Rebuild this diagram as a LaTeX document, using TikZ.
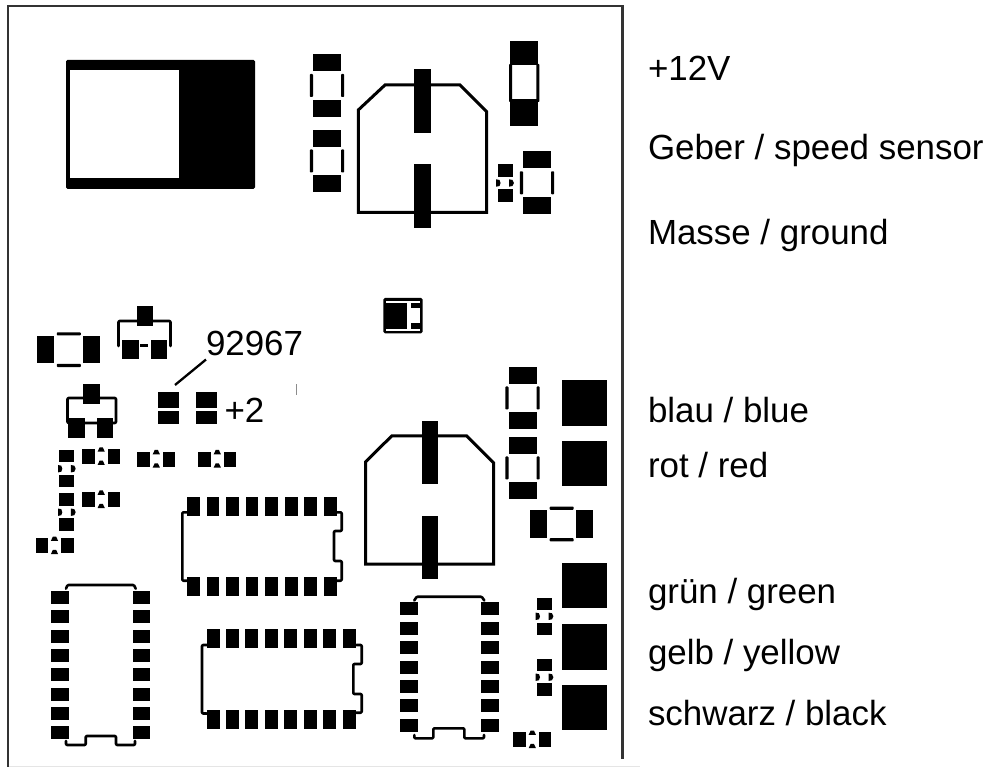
\documentclass[tikz,border=0pt]{standalone}
\usepackage{fontspec}
\setmainfont{Liberation Sans}

\begin{document}
\begin{tikzpicture}
      [x=1pt,y=-1pt,
       every node/.style={inner sep=0pt,outer sep=0pt,anchor=base west,font=\fontsize{34.9}{40}\selectfont},
       pad/.style={fill=black},
       silk/.style={draw=black,line width=2.6pt,line join=round,line cap=round,rounded corners=1pt},
       canline/.style={draw=black,line width=3pt,line join=miter},
       sidemark/.style={fill=black,rounded corners=0.8pt}]
	\useasboundingbox (0,0) rectangle (989,767);

	% board edge
	\draw[black!10,line width=1pt] (8,766) -- (640,766);
	\draw[black!80,line width=2.2pt] (8,767) -- (8,6) -- (622.5,6) -- (622.5,759);

	% big part, top left
	\fill[pad,rounded corners=1.5pt] (66,60) rectangle (255,189);
	\fill[white] (70,70) rectangle (179,178);

	% vertical chip parts
	\foreach \cx/\cy in {327/85.5,327/161,537/182.8,522.5/398,522.5/468}{
	  \fill[pad] (\cx-14,\cy-31.3) rectangle (\cx+14,\cy-14.3);
	  \fill[pad] (\cx-14,\cy+14.3) rectangle (\cx+14,\cy+31.3);
	  \fill[sidemark] (\cx-17.2,\cy-11.5) rectangle (\cx-14,\cy+11.5);
	  \fill[sidemark] (\cx+14,\cy-11.5) rectangle (\cx+17.2,\cy+11.5);
	}

	% tall part, top right
	\fill[pad] (510.3,41.3) rectangle (538,65);
	\fill[pad] (510.3,99) rectangle (538,126);
	\fill[sidemark] (509,64) rectangle (512,102);
	\fill[sidemark] (536.3,64) rectangle (539.3,102);

	% the two cans
	\draw[canline] (358.3,110) -- (385,85) -- (460,85) -- (486.7,111.7) -- (486.7,212.3) -- (358.3,212.3) -- cycle;
	\fill[pad] (414.3,69.3) rectangle (430.7,133.3);
	\fill[pad] (414.3,164.3) rectangle (430.7,228);
	\draw[canline] (365.7,461.7) -- (391.7,436) -- (466.7,436) -- (493.5,462.7) -- (493.5,564) -- (365.7,564) -- cycle;
	\fill[pad] (421.7,420.7) rectangle (438,484.3);
	\fill[pad] (421.7,515.7) rectangle (438,579.3);

	% tantalum in the middle
	\fill[pad,rounded corners=1.5pt] (383.3,298) rectangle (422.5,333.3);
	\fill[white] (386,301) rectangle (420,303.2);
	\fill[white] (386,329.3) rectangle (420,331.3);
	\fill[white] (406.7,301) rectangle (411,331.3);
	\fill[white] (411,308.3) rectangle (420,323.3);

	% horizontal chip parts
	\foreach \cx/\cy in {68.8/349.7,561.7/524}{
	  \fill[pad] (\cx-31.5,\cy-13.7) rectangle (\cx-14.5,\cy+13.7);
	  \fill[pad] (\cx+14.5,\cy-13.7) rectangle (\cx+31.5,\cy+13.7);
	  \fill[sidemark] (\cx-12,\cy-17.4) rectangle (\cx+12,\cy-14.2);
	  \fill[sidemark] (\cx-12,\cy+14.2) rectangle (\cx+12,\cy+17.4);
	}

	% transistors
	\fill[pad] (137,306) rectangle (153.3,326);
	\fill[pad] (122.3,339.7) rectangle (138.7,359.3);
	\fill[pad] (150.7,339.7) rectangle (167,359.3);
	\draw[silk] (118.5,346) -- (118.5,321) -- (170.5,321) -- (170.5,346);
	\fill[pad] (140,344.3) rectangle (148.3,346.7);
	\fill[pad] (83.3,384.3) rectangle (99.7,404);
	\fill[pad] (68.3,418.3) rectangle (85,437.7);
	\fill[pad] (96.7,418.3) rectangle (113,437.7);
	\draw[silk] (67.5,398) rectangle (116,423);

	% small pad pairs by the text
	\foreach \px in {158.3,195.7}{
	  \fill[pad] (\px,391.7) rectangle (\px+21,408.3);
	  \fill[pad] (\px,410.7) rectangle (\px+21,424.3);
	}

	% small horizontal parts
	\foreach \cx/\cy in {101.2/456.7,156.3/459.3,217.3/459.3,101.2/499.8,54.5/545.8,532.3/739.8}{
	  \fill[pad] (\cx-19,\cy-7.5) rectangle (\cx-6.3,\cy+7.5);
	  \fill[pad] (\cx+6.3,\cy-7.5) rectangle (\cx+19,\cy+7.5);
	  \fill[pad] (\cx-3.6,\cy-5) -- (\cx-1.6,\cy-9.3) -- (\cx+1.6,\cy-9.3) -- (\cx+3.6,\cy-5) -- cycle;
	  \fill[pad] (\cx-3.6,\cy+8.3) -- (\cx-1.6,\cy+4) -- (\cx+1.6,\cy+4) -- (\cx+3.6,\cy+8.3) -- cycle;
	}

	% small vertical parts
	\foreach \cx/\cy in {505/183,66.8/468.7,66.8/512.2,544.5/616.3,544.5/677.2}{
	  \fill[pad] (\cx-7.5,\cy-18.7) rectangle (\cx+7.5,\cy-6.2);
	  \fill[pad] (\cx-7.5,\cy+6.2) rectangle (\cx+7.5,\cy+18.7);
	  \fill[pad] (\cx-8.8,\cy-3.7) -- (\cx-5.5,\cy-3) -- (\cx-4.5,\cy) -- (\cx-5.5,\cy+3) -- (\cx-8.8,\cy+3.7) -- cycle;
	  \fill[pad] (\cx+4,\cy-3.7) -- (\cx+7.5,\cy-3) -- (\cx+8.9,\cy) -- (\cx+7.5,\cy+3) -- (\cx+4,\cy+3.7) -- cycle;
	}

	% square connection pads
	\foreach \cy in {380,440.7,562.7,624,684.5}
	  \fill[pad] (561.7,\cy) rectangle (607,\cy+45.6);

	% horizontal ICs
	\foreach \px in {186.7,206.5,226,245.5,265.2,284.7,304.2,323.7}{
	  \fill[pad] (\px,496.7) rectangle (\px+12.8,515.7);
	  \fill[pad] (\px,577) rectangle (\px+12.8,596);
	}
	\draw[silk] (186.7,512.3) -- (182.3,512.3) -- (182.3,580.7) -- (186.7,580.7);
	\draw[silk] (336.5,512.3) -- (341.7,512.3) -- (341.7,531) -- (334,531) -- (334,561) -- (341.7,561) -- (341.7,580.7) -- (336.5,580.7);
	\foreach \px in {206.7,226,245,265,284.3,304,323.3,343.3}{
	  \fill[pad] (\px,629.3) rectangle (\px+12.8,648.3);
	  \fill[pad] (\px,710) rectangle (\px+12.8,729);
	}
	\draw[silk] (206.7,645) -- (202,645) -- (202,713.5) -- (206.7,713.5);
	\draw[silk] (356.3,645) -- (361.7,645) -- (361.7,664) -- (353.3,664) -- (353.3,694) -- (361.7,694) -- (361.7,712.7) -- (356.3,712.7);

	% vertical ICs
	\foreach \py in {590.7,610.3,629.7,649,668,687.7,706.7,726.3}{
	  \fill[pad] (51.3,\py) rectangle (69.3,\py+13);
	  \fill[pad] (132.7,\py) rectangle (150.3,\py+13);
	}
	\draw[silk] (66,588.7) -- (67.5,585) -- (134,585) -- (135.7,588.7);
	\draw[silk] (66,741) -- (66,745) -- (85.7,745) -- (85.7,736) -- (116,736) -- (116,745) -- (135,745) -- (135,741);
	\foreach \py in {602.3,622.3,641.3,660.7,680.3,699.3,719.3}{
	  \fill[pad] (399.7,\py) rectangle (417.7,\py+13);
	  \fill[pad] (480.7,\py) rectangle (498.7,\py+13);
	}
	\draw[silk] (414.3,600.5) -- (416.7,596.7) -- (481.7,596.7) -- (484.3,600.5);
	\draw[silk] (414.3,735) -- (414.3,738.3) -- (433.3,738.3) -- (433.3,728.3) -- (464.3,728.3) -- (464.3,738.3) -- (484,738.3) -- (484,735);

	% speck
	\fill[black!45] (296,384) rectangle (297.4,395);

	% texts on the board
	\node (partno) at (206,355.7) {92967};
	\node (plustwo) at (224.5,422.3) {+2};
	\coordinate (partnotip) at (175,385);
	\draw[line width=2.3pt] ([yshift=-3.5pt]partno.south west) -- (partnotip);

	% wire labels
	\node (plus12) at (648,80.7) {+12V};
	\node (geber)  at (648,160)  {Geber / speed sensor};
	\node (masse)  at (648,245)  {Masse / ground};
	\node (blau)   at (648,422.7) {blau / blue};
	\node (rot)    at (648,477.3) {rot / red};
	\node (gruen)  at (648,603.3) {grün / green};
	\node (gelb)   at (648,664)   {gelb / yellow};
	\node (schwarz) at (648,725)  {schwarz / black};
\end{tikzpicture}
\end{document}
